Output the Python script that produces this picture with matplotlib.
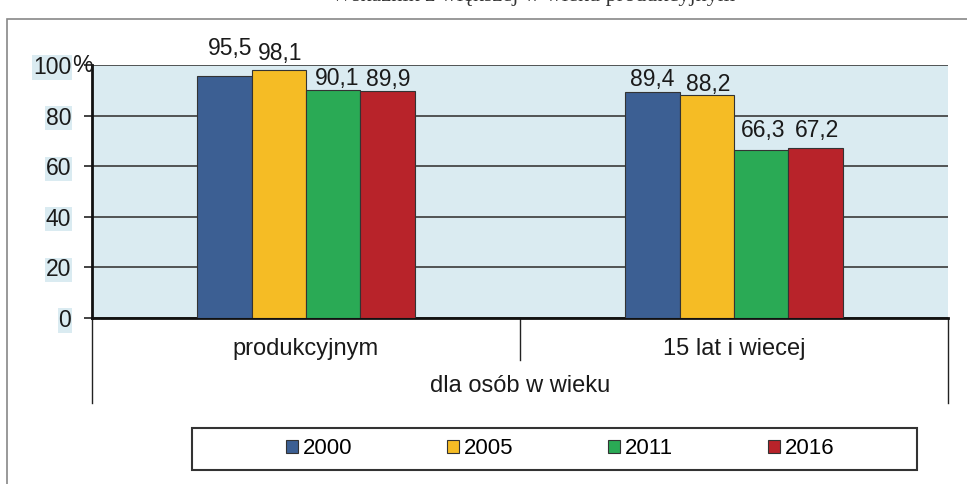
import numpy as np
import matplotlib
matplotlib.use('Agg')
import matplotlib.pyplot as plt
from matplotlib.patches import Patch, Rectangle
from matplotlib.lines import Line2D

plt.rcParams['font.family'] = ['Liberation Sans', 'DejaVu Sans']

# data
categories = ['produkcyjnym', '15 lat i wiecej']
group_label = 'dla osób w wieku'
years = ['2000', '2005', '2011', '2016']
values = {
    '2000': [95.5, 89.4],
    '2005': [98.1, 88.2],
    '2011': [90.1, 66.3],
    '2016': [89.9, 67.2],
}
yticks = [0, 20, 40, 60, 80, 100]
colors = ['#3C5F93', '#F5BC25', '#2AAA55', '#B8232A']
bg = '#DAEBF1'
title = 'Wskaźnik z większej w wieku produkcyjnym'

# label nudges in pixels (x, y above the bar top), as placed in the original
label_dx = {'2000': [6, 0], '2005': [1, 1], '2011': [4, 2], '2016': [1, 1]}
label_dy = {'2000': [21, 6], '2005': [10, 4], '2011': [5, 13], '2016': [5, 11]}

W, H = 967, 484
fig = plt.figure(figsize=(W / 100, H / 100), dpi=100)

# plot area in pixels (left, top, right, bottom)
pl, pt, pr, pb = 92, 65, 948, 318
ax = fig.add_axes([pl / W, 1 - pb / H, (pr - pl) / W, (pb - pt) / H])
ax.set_facecolor(bg)

x = np.arange(len(categories))
bw = 0.127
for i, (yr, c) in enumerate(zip(years, colors)):
    offs = (i - 1.5) * bw
    bars = ax.bar(x + offs, values[yr], bw, color=c, edgecolor='#333333', linewidth=0.8, zorder=3)
    for j, (b, v) in enumerate(zip(bars, values[yr])):
        ax.annotate(f'{v:.1f}'.replace('.', ','), (b.get_x() + b.get_width() / 2, v),
                    xytext=(label_dx[yr][j], label_dy[yr][j]), textcoords='offset pixels',
                    ha='center', va='baseline', fontsize=16.5, color='#1a1a1a',
                    annotation_clip=False)

ax.set_xlim(-0.5, 1.5)
ax.set_ylim(0, 100)
ax.set_yticks(yticks)
ax.set_yticklabels([str(t) for t in yticks], fontsize=16.5, color='#1a1a1a')
for lab in ax.get_yticklabels():
    lab.set_bbox(dict(facecolor=bg, edgecolor='none', pad=0.5))
ax.set_xticks([])
ax.tick_params(axis='y', length=6, width=1.2, pad=9, color='#222222')
ax.yaxis.grid(True, color='#3a3a3a', linewidth=1.2, zorder=1)
ax.set_axisbelow(True)
for s in ['top', 'right']:
    ax.spines[s].set_visible(False)
ax.spines['left'].set_linewidth(2)
ax.spines['bottom'].set_linewidth(2)
ax.spines['left'].set_color('#111111')
ax.spines['bottom'].set_color('#111111')
fig.text(72 / W, 1 - 66 / H, '%', ha='left', va='center', fontsize=16.5, color='#1a1a1a')

# category tiers under the axis
h = pb - pt
def fy(py):
    return (pb - py) / h
for xa, y1 in [(0.0, 403), (0.5, 360), (1.0, 403)]:
    ax.add_line(Line2D([xa, xa], [0, fy(y1)], transform=ax.transAxes, color='#222222',
                       linewidth=1, clip_on=False))
for i, c in enumerate(categories):
    ax.text(0.25 + 0.5 * i, fy(349), c, transform=ax.transAxes, ha='center', va='center',
            fontsize=17, color='#1a1a1a')
ax.text(0.5, fy(386), group_label, transform=ax.transAxes, ha='center', va='center',
        fontsize=17, color='#1a1a1a')

# outer chart frame
fig.patches.append(Rectangle((7 / W, -0.1), 1.2, 1 - 19 / H + 0.1, transform=fig.transFigure,
                             fill=False, edgecolor='#888888', linewidth=1.2))

# title of the page, cut off by the top edge as in the original
fig.text(533 / W, 1 - 1 / H, title, ha='center', va='baseline', fontsize=16,
         family='Liberation Serif', color='#333333')

# legend
handles = [Patch(facecolor=c, edgecolor='#333333', linewidth=0.8) for c in colors]
leg = fig.legend(handles, years, loc='center', ncol=4, fontsize=16,
                 bbox_to_anchor=(560 / W, 1 - 449 / H),
                 handlelength=0.55, handleheight=0.55, handletextpad=0.22,
                 columnspacing=4.25, borderpad=0.5, fancybox=False, frameon=False)
fig.patches.append(Rectangle((192 / W, 1 - 470 / H), (917 - 192) / W, 42 / H,
                             transform=fig.transFigure, fill=False, edgecolor='#333333',
                             linewidth=1.5))

fig.savefig('out.png', dpi=100, facecolor='white')
